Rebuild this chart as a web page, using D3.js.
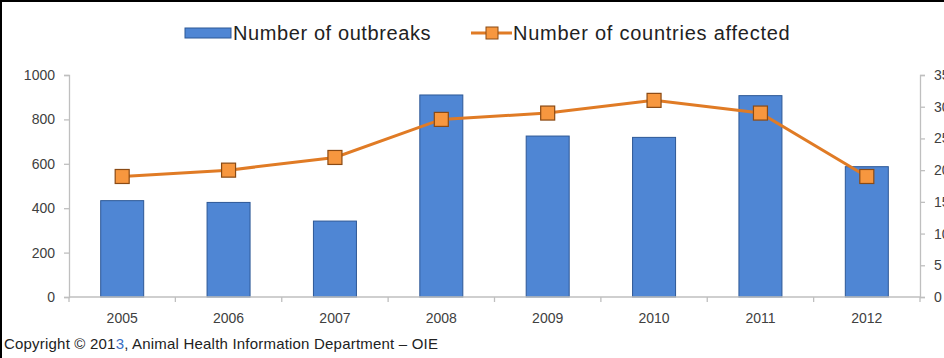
<!DOCTYPE html>
<html>
<head>
<meta charset="utf-8">
<script src="https://cdn.jsdelivr.net/npm/d3@7"></script>
<style>
  html, body { margin: 0; padding: 0; background: #fff; overflow: hidden; }
  svg { display: block; font-family: "Liberation Sans", Arial, sans-serif; }
</style>
</head>
<body>
<svg id="chart" width="944" height="358"></svg>
<script>
// Outbreaks and affected countries per year
const years = ["2005", "2006", "2007", "2008", "2009", "2010", "2011", "2012"];
const outbreaks = [434, 426, 342, 910, 725, 719, 907, 587];
const countries = [19, 20, 22, 28, 29, 31, 29, 19];
const leftTicks = [0, 200, 400, 600, 800, 1000];
const rightTicks = [0, 5, 10, 15, 20, 25, 30, 35];

const svg = d3.select("#chart");
const W = 944, H = 358;
const m = { left: 69, right: 920, top: 75, bottom: 297 };

const barFill = "#4f86d4", barStroke = "#2d5896";
const lineColor = "#e07b25", markFill = "#f7973f", markStroke = "#8a4a14";
const axisColor = "#bfbfbf", textColor = "#404040";

// frame
svg.append("rect").attr("x", 0).attr("y", 0).attr("width", W).attr("height", H).attr("fill", "#fff");
svg.append("line").attr("x1", 0).attr("x2", W).attr("y1", 1).attr("y2", 1).attr("stroke", "#000").attr("stroke-width", 2);
svg.append("line").attr("x1", 1).attr("x2", 1).attr("y1", 0).attr("y2", H).attr("stroke", "#000").attr("stroke-width", 2);

const xc = d3.scaleBand().domain(years).range([m.left, m.right]);
const yL = d3.scaleLinear().domain([0, 1000]).range([m.bottom, m.top]);
const yR = d3.scaleLinear().domain([0, 35]).range([m.bottom, m.top]);
const barW = 43;

// bars
svg.append("g").selectAll("rect").data(years).join("rect")
  .attr("x", d => xc(d) + (xc.bandwidth() - barW) / 2)
  .attr("width", barW)
  .attr("y", (d, i) => yL(outbreaks[i]))
  .attr("height", (d, i) => yL(0) - yL(outbreaks[i]))
  .attr("fill", barFill).attr("stroke", barStroke).attr("stroke-width", 1);

// left axis
const gL = svg.append("g").attr("transform", `translate(${m.left},0)`)
  .call(d3.axisLeft(yL).tickValues(leftTicks).tickSize(5).tickPadding(9).tickFormat(d3.format("d")));
// right axis (labels run past the right edge of the frame)
const gR = svg.append("g").attr("transform", `translate(${m.right},0)`)
  .call(d3.axisRight(yR).tickValues(rightTicks).tickSize(5).tickPadding(9).tickFormat(d3.format("d")));
// bottom axis: ticks at category boundaries
const gB = svg.append("g").attr("transform", `translate(0,${m.bottom})`);
gB.append("line").attr("x1", m.left).attr("x2", m.right).attr("y1", 0).attr("y2", 0);
gB.selectAll("line.tk").data(years.concat(["end"])).join("line").attr("class", "tk")
  .attr("x1", (d, i) => m.left + i * xc.step()).attr("x2", (d, i) => m.left + i * xc.step())
  .attr("y1", 0).attr("y2", 5);
gB.selectAll("text").data(years).join("text")
  .attr("x", d => xc(d) + xc.bandwidth() / 2).attr("y", 26)
  .attr("text-anchor", "middle").text(d => d);

[gL, gR].forEach(g => g.select(".domain").attr("stroke", axisColor).attr("stroke-width", 1.3));
[gL, gR].forEach(g => g.selectAll(".tick line").attr("stroke", axisColor).attr("stroke-width", 1.3));
gB.selectAll("line").attr("stroke", axisColor).attr("stroke-width", 1.3);
svg.selectAll("g text").attr("fill", textColor).attr("font-size", 14);

// line series
const pts = years.map((d, i) => [xc(d) + xc.bandwidth() / 2, yR(countries[i])]);
svg.append("path").datum(pts)
  .attr("d", d3.line())
  .attr("fill", "none").attr("stroke", lineColor).attr("stroke-width", 3);
svg.append("g").selectAll("rect").data(pts).join("rect")
  .attr("x", d => d[0] - 7).attr("y", d => d[1] - 7)
  .attr("width", 14).attr("height", 14)
  .attr("fill", markFill).attr("stroke", markStroke).attr("stroke-width", 1.2);

// legend
const lg = svg.append("g");
lg.append("rect").attr("x", 185).attr("y", 28).attr("width", 46).attr("height", 10)
  .attr("fill", barFill).attr("stroke", barStroke);
lg.append("text").attr("x", 233).attr("y", 40).attr("font-size", 20).attr("letter-spacing", 0.6)
  .attr("fill", "#222").text("Number of outbreaks");
lg.append("line").attr("x1", 471).attr("x2", 512).attr("y1", 33).attr("y2", 33)
  .attr("stroke", lineColor).attr("stroke-width", 3);
lg.append("rect").attr("x", 486).attr("y", 27).attr("width", 12).attr("height", 12)
  .attr("fill", markFill).attr("stroke", markStroke).attr("stroke-width", 1);
lg.append("text").attr("x", 513).attr("y", 40).attr("font-size", 20).attr("letter-spacing", 0.75)
  .attr("fill", "#222").text("Number of countries affected");

// source note
const note = svg.append("text").attr("x", 4).attr("y", 349).attr("font-size", 15).attr("letter-spacing", 0.2).attr("fill", "#222");
note.append("tspan").text("Copyright © 201");
note.append("tspan").attr("fill", "#3a6fc4").text("3");
note.append("tspan").text(", Animal Health Information Department – OIE");
</script>
</body>
</html>
